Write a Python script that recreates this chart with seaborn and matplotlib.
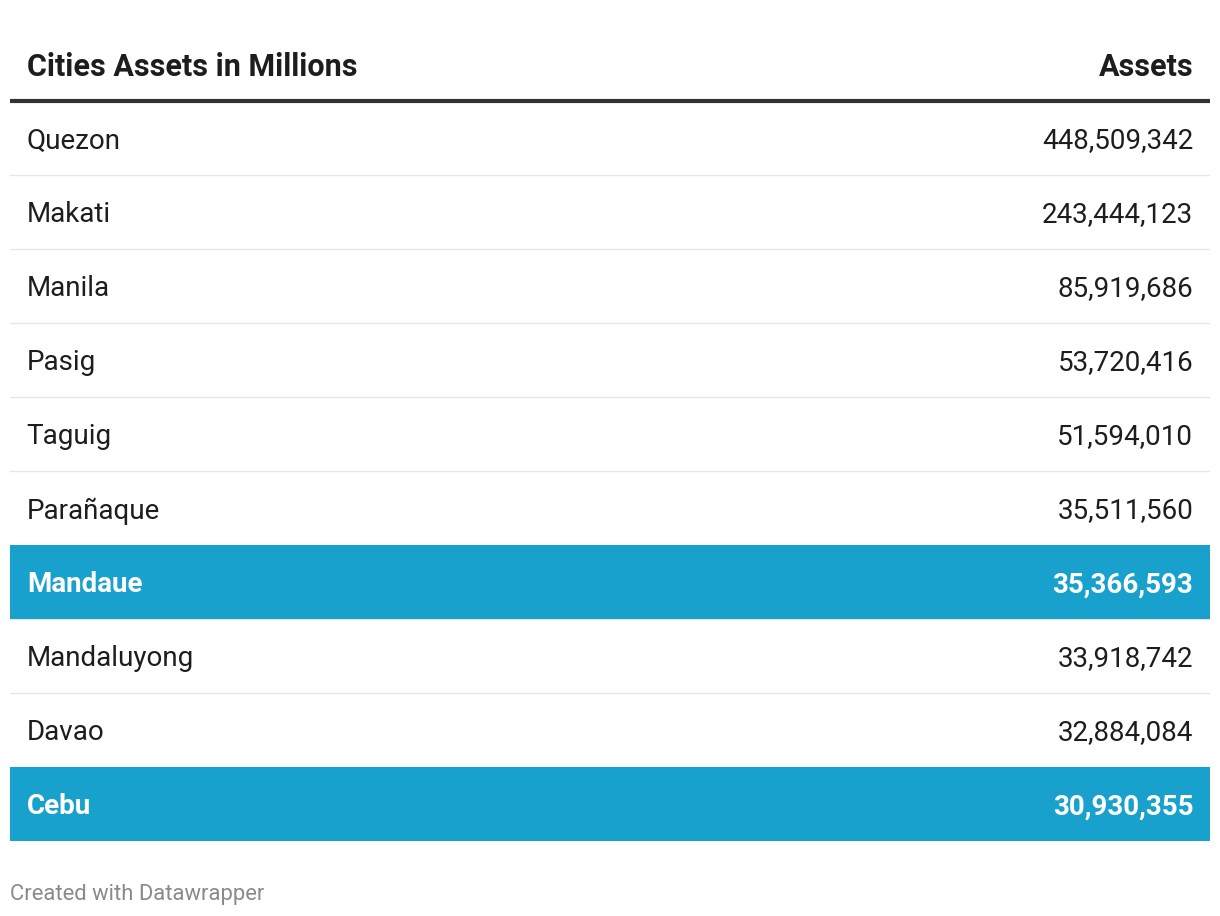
import matplotlib.pyplot as plt
import pandas as pd
import seaborn as sns

cities = ["Quezon", "Makati", "Manila", "Pasig", "Taguig", "Parañaque",
          "Mandaue", "Mandaluyong", "Davao", "Cebu"]
assets = [448509342, 243444123, 85919686, 53720416, 51594010, 35511560,
          35366593, 33918742, 32884084, 30930355]
highlighted = ["Mandaue", "Cebu"]
header_left = "Cities Assets in Millions"
header_right = "Assets"
footer = "Created with Datawrapper"

BLUE = "#19a1cd"
DARK = "#1d1d1d"

sns.set_theme(style="white")
plt.rcParams["font.family"] = ["Roboto", "DejaVu Sans"]

df = pd.DataFrame({"city": cities, "assets": assets})
df["fill"] = [1.0 if c in highlighted else 0.0 for c in df["city"]]

W, H = 1220, 916
fig = plt.figure(figsize=(W / 100, H / 100), dpi=100)
row_h = 74
top_px = 138 - 1.5 * row_h
bot_px = 138 + 9.5 * row_h
ax = fig.add_axes([10 / W, (H - bot_px) / H, 1200 / W, (bot_px - top_px) / H])

# highlighted rows as full-width bars
sns.barplot(data=df, x="fill", y="city", orient="h", width=1.0,
            color=BLUE, saturation=1, linewidth=0, ax=ax, zorder=2)

n = len(cities)
for i in range(n - 1):
    ax.axhline(i + 0.5, color="#e6e6e6", lw=1, zorder=1)
ax.axhline(-0.5, color="#333333", lw=3, zorder=3)

ax.text(0.014, -1, header_left, ha="left", va="center_baseline",
        fontsize=22, fontweight="bold", color=DARK)
ax.text(0.986, -1, header_right, ha="right", va="center_baseline",
        fontsize=22, fontweight="bold", color=DARK)

for i, row in df.iterrows():
    hl = row["fill"] > 0
    col = "white" if hl else DARK
    fw = "bold" if hl else "normal"
    ax.text(0.014, i, row["city"], ha="left", va="center_baseline",
            fontsize=20, color=col, fontweight=fw, zorder=4)
    ax.text(0.986, i, f"{row['assets']:,}", ha="right", va="center_baseline",
            fontsize=20, color=col, fontweight=fw, zorder=4)

ax.set_xlim(0, 1)
ax.set_ylim(n - 0.5, -1.5)
ax.set_axis_off()

fig.text(10 / W, 1 - 892 / H, footer, ha="left", va="center_baseline",
         fontsize=15.8, color="#8a8a8a")

fig.savefig("out.png", dpi=100, facecolor="white")
